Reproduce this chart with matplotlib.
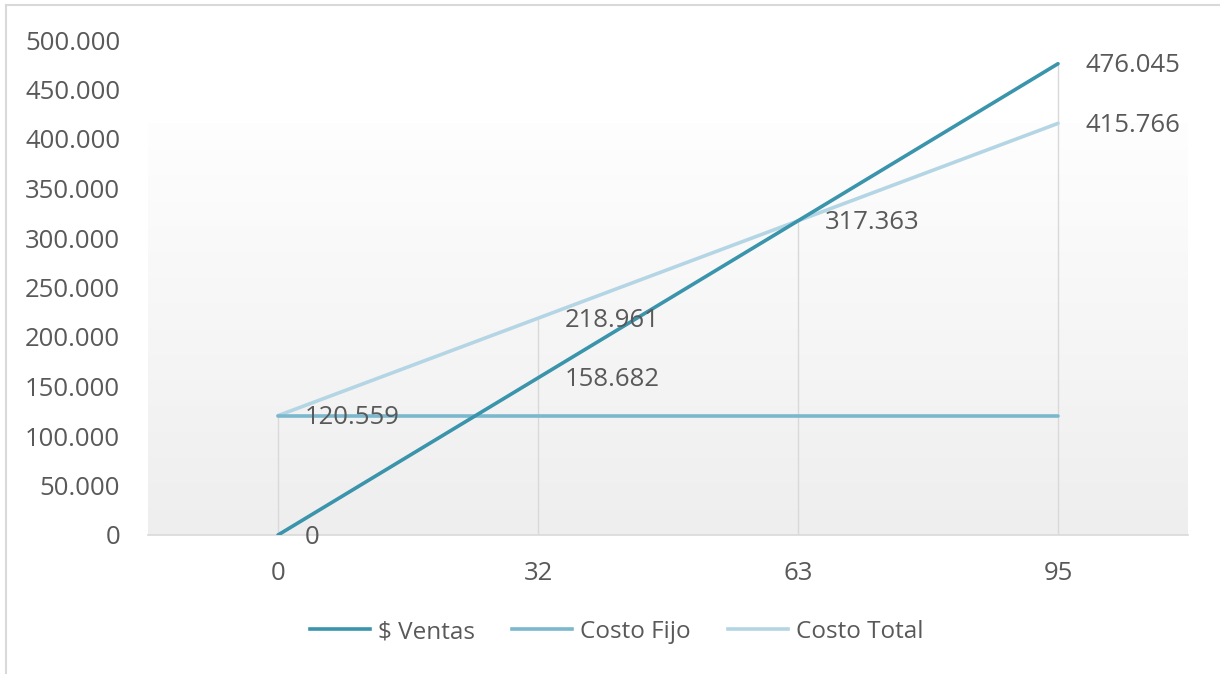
import numpy as np
import matplotlib
matplotlib.use("Agg")
import matplotlib.pyplot as plt
from matplotlib.lines import Line2D
from matplotlib.ticker import FuncFormatter

# Break-even data
unidades = ["0", "32", "63", "95"]
ventas = [0, 158682, 317363, 476045]
costo_fijo = [120559, 120559, 120559, 120559]
costo_total = [120559, 218961, 317363, 415766]

series_names = ["$ Ventas", "Costo Fijo", "Costo Total"]
colors = ["#3a94ab", "#7bb8cd", "#b4d6e4"]
text_color = "#595959"
grid_color = "#d9d9d9"

plt.rcParams["font.family"] = ["Open Sans", "DejaVu Sans"]
FS = 18.5
LEG_FS = 17.5


def miles(v, _pos=None):
    return f"{v:,.0f}".replace(",", ".")


fig = plt.figure(figsize=(12.2, 6.74), dpi=100)
ax = fig.add_axes([148 / 1220, 139 / 674, 1040 / 1220, 495 / 674])

x = np.arange(len(unidades))
ax.set_xlim(-0.5, len(unidades) - 0.5)
ax.set_ylim(0, 500000)

# plot-area gradient (white on top fading to light grey)
grad = np.linspace(0, 1, 256).reshape(-1, 1)
cmap = matplotlib.colors.LinearSegmentedColormap.from_list("bg", ["#fefefe", "#eeeeee"])
ax.imshow(grad, extent=[-0.5, len(unidades) - 0.5, 0, 416000], aspect="auto",
          cmap=cmap, origin="upper", zorder=0, interpolation="bicubic")

# drop lines from the axis to the highest series at each category
tops = np.max(np.vstack([ventas, costo_fijo, costo_total]), axis=0)
ax.vlines(x, 0, tops, color=grid_color, lw=1.0, zorder=1)

ax.plot(x, costo_total, color=colors[2], lw=2.6, label=series_names[2], zorder=3,
        solid_capstyle="round")
ax.plot(x, costo_fijo, color=colors[1], lw=2.6, label=series_names[1], zorder=3,
        solid_capstyle="round")
ax.plot(x, ventas, color=colors[0], lw=2.6, label=series_names[0], zorder=4,
        solid_capstyle="round")

# data labels
def label(xi, yi):
    ax.annotate(miles(yi), (xi, yi), xytext=(19.5, -1.5), textcoords="offset points",
                ha="left", va="center", fontsize=FS, color=text_color, zorder=5)

for xi, yi in zip(x, ventas):
    label(xi, yi)
for xi, yi in zip(x, costo_total):
    if yi not in ventas:
        label(xi, yi)

ax.set_xticks(x)
ax.set_xticklabels(unidades)
ax.set_yticks(np.arange(0, 500001, 50000))
ax.yaxis.set_major_formatter(FuncFormatter(miles))
ax.tick_params(axis="both", length=0, labelsize=FS, labelcolor=text_color)
ax.tick_params(axis="y", pad=20)
ax.tick_params(axis="x", pad=19)

for s in ["top", "right", "left"]:
    ax.spines[s].set_visible(False)
ax.spines["bottom"].set_color(grid_color)
ax.spines["bottom"].set_linewidth(1.2)
ax.spines["bottom"].set_zorder(2)
ax.set_facecolor("white")

handles = [Line2D([], [], color=c, lw=2.6) for c in colors]
fig.legend(handles, series_names, loc="center", bbox_to_anchor=(617 / 1220, 42 / 674),
           ncol=3, frameon=False, fontsize=LEG_FS, labelcolor=text_color,
           handlelength=2.47, handletextpad=0.33, columnspacing=1.52)

# chart frame (top and left edges)
fig.add_artist(Line2D([6 / 1220, 1.0], [1 - 5 / 674, 1 - 5 / 674],
                      transform=fig.transFigure, color=grid_color, lw=1.5))
fig.add_artist(Line2D([6 / 1220, 6 / 1220], [0.0, 1 - 5 / 674],
                      transform=fig.transFigure, color=grid_color, lw=1.5))

fig.savefig("out.png", dpi=100, facecolor="white")
